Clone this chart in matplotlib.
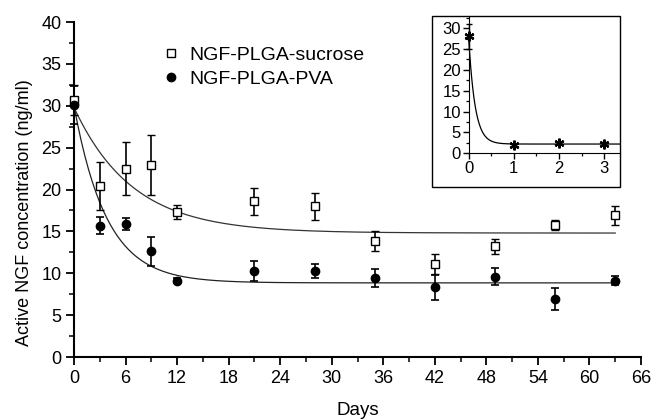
import numpy as np
import matplotlib
matplotlib.use("Agg")
import matplotlib.pyplot as plt
from matplotlib.lines import Line2D
from matplotlib.patches import Rectangle
from matplotlib.ticker import MultipleLocator, FixedLocator

plt.rcParams["font.family"] = ["Liberation Sans", "DejaVu Sans"]

# measured release data (days, ng/ml, SD)
days = [0, 3, 6, 9, 12, 21, 28, 35, 42, 49, 56, 63]
sucrose = [30.7, 20.4, 22.5, 22.9, 17.3, 18.6, 18.0, 13.9, 11.1, 13.2, 15.8, 16.9]
sucrose_err = [1.8, 2.9, 3.2, 3.6, 0.8, 1.6, 1.6, 1.2, 1.2, 0.9, 0.6, 1.1]
pva = [30.1, 15.7, 15.9, 12.6, 9.1, 10.3, 10.3, 9.4, 8.3, 9.6, 6.9, 9.1]
pva_err = [2.3, 1.0, 0.7, 1.7, 0.3, 1.2, 0.85, 1.1, 1.5, 1.0, 1.3, 0.55]

# first-order decay fits: (start, plateau, tau)
sucrose_fit = (29.8, 14.8, 6.8)
pva_fit = (30.0, 8.85, 3.8)

# inset data
inset_days = [0, 1, 2, 3]
inset_vals = [28.0, 1.9, 2.5, 2.3]
inset_err = [3.0, 0.4, 0.3, 0.3]
inset_fit = (28.0, 2.2, 0.14)
inset_xticks = [0, 1, 2, 3]
inset_yticks = [0, 5, 10, 15, 20, 25, 30]


def decay(t, fit):
    y0, plateau, tau = fit
    return plateau + (y0 - plateau) * np.exp(-t / tau)


fig = plt.figure(figsize=(6.54, 4.19), dpi=100)
ax = fig.add_axes([74 / 654, 1 - 357 / 419, 567 / 654, 335 / 419])

t = np.linspace(0, 63, 300)
ax.plot(t, decay(t, sucrose_fit), color="#333333", lw=0.9)
ax.plot(t, decay(t, pva_fit), color="#222222", lw=0.9)

ax.errorbar(days, sucrose, yerr=sucrose_err, fmt="s", mfc="white", mec="black",
            mew=1.0, ms=5.5, ecolor="black", elinewidth=1.2, capsize=3,
            capthick=1.2, clip_on=False, zorder=3)
ax.errorbar(days, pva, yerr=pva_err, fmt="o", mfc="black", mec="black",
            ms=6, ecolor="black", elinewidth=1.2, capsize=3, capthick=1.2,
            clip_on=False, zorder=3)

ax.set_xlim(0, 66)
ax.set_ylim(0, 40)
ax.xaxis.set_major_locator(MultipleLocator(6))
ax.xaxis.set_minor_locator(MultipleLocator(3))
ax.yaxis.set_major_locator(MultipleLocator(5))
ax.yaxis.set_minor_locator(MultipleLocator(2.5))
ax.tick_params(which="major", direction="out", length=6, width=1.3,
               labelsize=13, pad=3)
ax.tick_params(which="minor", direction="out", length=3.5, width=1.1)
for s in ("top", "right"):
    ax.spines[s].set_visible(False)
for s in ("left", "bottom"):
    ax.spines[s].set_linewidth(1.5)

ax.set_xlabel("Days", fontsize=13.5, labelpad=11)
ax.set_ylabel("Active NGF concentration (ng/ml)", fontsize=13, labelpad=6)
ax.yaxis.label.set_y(0.43)

handles = [
    Line2D([], [], ls="none", marker="s", mfc="white", mec="black", ms=5.5, mew=1.0),
    Line2D([], [], ls="none", marker="o", mfc="black", mec="black", ms=6),
]
ax.legend(handles, ["NGF-PLGA-sucrose", "NGF-PLGA-PVA"], loc="upper left",
          bbox_to_anchor=(0.14, 0.957), frameon=False, fontsize=14,
          handlelength=0.8, handletextpad=0.55, labelspacing=0.32,
          borderpad=0)

# inset
x0, x1 = 432 / 654, 620 / 654
y0, y1 = 1 - 187 / 419, 1 - 16 / 419
axi = fig.add_axes([x0, y0, x1 - x0, y1 - y0])
axi.set_xlim(-0.81, 3.35)
axi.set_ylim(-8.1, 32.9)
ti = np.linspace(0, 3.35, 300)
axi.plot(ti, decay(ti, inset_fit), color="black", lw=0.9)
axi.errorbar(inset_days, inset_vals, yerr=inset_err, fmt="none", ecolor="black",
             elinewidth=1.0, capsize=2)
axi.plot(inset_days, inset_vals, ls="none", marker=(6, 2, 0), ms=7, mew=1.6,
         color="black")
for s in ("top", "right"):
    axi.spines[s].set_visible(False)
axi.spines["left"].set_position(("data", 0))
axi.spines["bottom"].set_position(("data", 0))
axi.spines["left"].set_bounds(0, 32.9)
axi.spines["bottom"].set_bounds(0, 3.35)
axi.set_xticks(inset_xticks)
axi.set_yticks(inset_yticks)
axi.xaxis.set_minor_locator(FixedLocator([0.5, 1.5, 2.5]))
axi.yaxis.set_minor_locator(FixedLocator([2.5, 7.5, 12.5, 17.5, 22.5, 27.5, 32.5]))
axi.tick_params(which="major", direction="out", length=4, width=1.0,
                labelsize=12, pad=1.5)
axi.tick_params(which="minor", direction="out", length=2.5, width=0.9)
axi.add_patch(Rectangle((0, 0), 1, 1, transform=axi.transAxes, fill=False,
                        lw=1.0, ec="black", clip_on=False))

fig.savefig("out.png", dpi=100)
